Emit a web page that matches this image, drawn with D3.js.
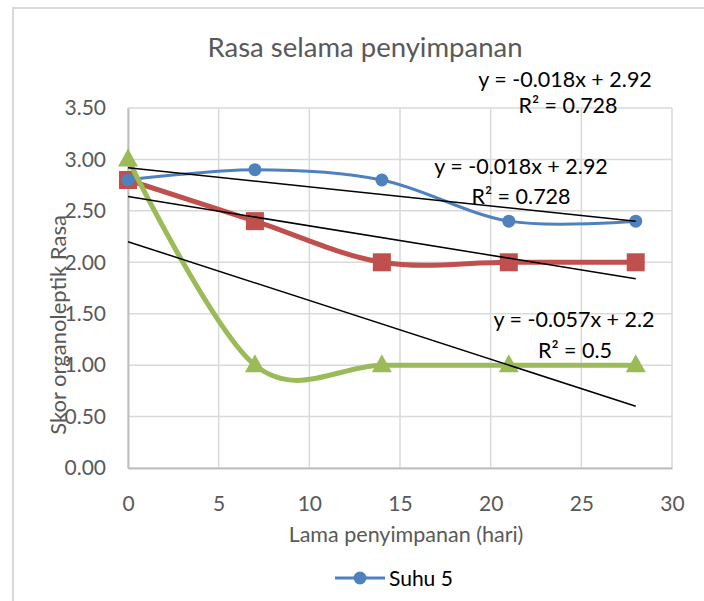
<!DOCTYPE html>
<html>
<head>
<meta charset="utf-8">
<script src="https://cdn.jsdelivr.net/npm/d3@7"></script>
<style>
  body { margin: 0; background: #fff; }
  text { font-family: Lato, "Open Sans", sans-serif; }
</style>
</head>
<body>
<svg id="chart" width="704" height="601"></svg>
<script>
"use strict";

// data
const days = [0, 7, 14, 21, 28];
const suhu5 = [2.8, 2.9, 2.8, 2.4, 2.4];
const seriesRed = [2.8, 2.4, 2.0, 2.0, 2.0];
const seriesGreen = [3.0, 1.0, 1.0, 1.0, 1.0];
const yTicks = [0, 0.5, 1, 1.5, 2, 2.5, 3, 3.5];
const xTicks = [0, 5, 10, 15, 20, 25, 30];
const trendLabels = [
  ["y = -0.018x + 2.92", "R\u00b2 = 0.728"],
  ["y = -0.018x + 2.92", "R\u00b2 = 0.728"],
  ["y = -0.057x + 2.2", "R\u00b2 = 0.5"]
];

const svg = d3.select("#chart");

// outer chart border
svg.append("rect")
  .attr("x", 13).attr("y", 8)
  .attr("width", 720).attr("height", 620)
  .attr("fill", "#fff")
  .attr("stroke", "#d9d9d9")
  .attr("stroke-width", 2);

const xScale = d3.scaleLinear().domain([0, 30]).range([128, 672]);
const yScale = d3.scaleLinear().domain([0, 3.5]).range([468, 108]);

// gridlines
svg.append("g")
  .selectAll("line.h")
  .data(yTicks)
  .enter().append("line")
  .attr("x1", xScale(0)).attr("x2", xScale(30))
  .attr("y1", d => yScale(d)).attr("y2", d => yScale(d))
  .attr("stroke", "#d9d9d9").attr("stroke-width", 1.5);

svg.append("g")
  .selectAll("line.v")
  .data(xTicks)
  .enter().append("line")
  .attr("x1", d => xScale(d)).attr("x2", d => xScale(d))
  .attr("y1", yScale(0)).attr("y2", yScale(3.5))
  .attr("stroke", "#d9d9d9").attr("stroke-width", 1.5);

// axes
const yAxis = svg.append("g")
  .attr("transform", `translate(${xScale(0)},0)`)
  .call(d3.axisLeft(yScale).tickValues(yTicks).tickFormat(d3.format(".2f")).tickSize(0).tickPadding(22));
const xAxis = svg.append("g")
  .attr("transform", `translate(0,${yScale(0)})`)
  .call(d3.axisBottom(xScale).tickValues(xTicks).tickSize(0).tickPadding(28));

[yAxis, xAxis].forEach(ax => {
  ax.select(".domain").attr("stroke", "#bfbfbf").attr("stroke-width", 2);
  ax.selectAll("text")
    .attr("fill", "#595959")
    .style("font-size", "21px")
    .style("font-family", "Lato, sans-serif");
});

// smoothed lines like Excel
const line = d3.line()
  .x((d, i) => xScale(days[i]))
  .y(d => yScale(d))
  .curve(d3.curveCardinal.tension(0));

svg.append("path")
  .datum(seriesRed)
  .attr("d", line)
  .attr("fill", "none")
  .attr("stroke", "#c0504d")
  .attr("stroke-width", 5);

svg.selectAll("rect.red")
  .data(seriesRed)
  .enter().append("rect")
  .attr("x", (d, i) => xScale(days[i]) - 9)
  .attr("y", d => yScale(d) - 9)
  .attr("width", 18).attr("height", 18)
  .attr("fill", "#c0504d");

svg.append("path")
  .datum(suhu5)
  .attr("d", line)
  .attr("fill", "none")
  .attr("stroke", "#4f81bd")
  .attr("stroke-width", 3);

svg.selectAll("circle.blue")
  .data(suhu5)
  .enter().append("circle")
  .attr("cx", (d, i) => xScale(days[i]))
  .attr("cy", d => yScale(d))
  .attr("r", 6.5)
  .attr("fill", "#4f81bd");

svg.append("path")
  .datum(seriesGreen)
  .attr("d", line)
  .attr("fill", "none")
  .attr("stroke", "#9bbb59")
  .attr("stroke-width", 5);

svg.selectAll("path.tri")
  .data(seriesGreen)
  .enter().append("path")
  .attr("d", (d, i) => {
    const cx = xScale(days[i]), cy = yScale(d);
    return `M${cx},${cy - 11}L${cx + 10},${cy + 7}L${cx - 10},${cy + 7}Z`;
  })
  .attr("fill", "#9bbb59");

// linear trendlines (least squares)
function fit(ys) {
  const mx = d3.mean(days), my = d3.mean(ys);
  const sxy = d3.sum(days, (x, i) => (x - mx) * (ys[i] - my));
  const sxx = d3.sum(days, x => (x - mx) * (x - mx));
  const b = sxy / sxx;
  return [b, my - b * mx];
}

[suhu5, seriesRed, seriesGreen].forEach(ys => {
  const [b, a] = fit(ys);
  svg.append("line")
    .attr("x1", xScale(0)).attr("y1", yScale(a))
    .attr("x2", xScale(28)).attr("y2", yScale(a + b * 28))
    .attr("stroke", "#000")
    .attr("stroke-width", 1.5);
});

// trend labels
const labelPos = [[565, 568, 87, 113], [521, 521, 174, 204], [574, 575, 327, 358]];
trendLabels.forEach((lab, i) => {
  const p = labelPos[i];
  svg.append("text").attr("x", p[0]).attr("y", p[2])
    .attr("text-anchor", "middle").style("font-size", "21.5px").attr("fill", "#000")
    .text(lab[0]);
  svg.append("text").attr("x", p[1]).attr("y", p[3])
    .attr("text-anchor", "middle").style("font-size", "21.5px").attr("fill", "#000")
    .text(lab[1]);
});

// title
svg.append("text")
  .attr("x", 365).attr("y", 57)
  .attr("text-anchor", "middle")
  .attr("fill", "#595959")
  .style("font-size", "27.5px")
  .text("Rasa selama penyimpanan");

// axis titles
svg.append("text")
  .attr("x", 406).attr("y", 542)
  .attr("text-anchor", "middle")
  .attr("fill", "#595959")
  .style("font-size", "21.5px")
  .text("Lama penyimpanan (hari)");

svg.append("text")
  .attr("transform", "translate(66,325) rotate(-90)")
  .attr("text-anchor", "middle")
  .attr("fill", "#595959")
  .style("font-size", "22px")
  .text("Skor organoleptik Rasa");

// legend
const leg = svg.append("g").attr("transform", "translate(335,578)");
leg.append("line").attr("x1", 0).attr("x2", 50)
  .attr("stroke", "#4f81bd").attr("stroke-width", 3);
leg.append("circle").attr("cx", 25).attr("r", 6.5).attr("fill", "#4f81bd");
leg.append("text").attr("x", 54).attr("y", 8)
  .style("font-size", "21px").attr("fill", "#000")
  .text("Suhu 5");
</script>
</body>
</html>
